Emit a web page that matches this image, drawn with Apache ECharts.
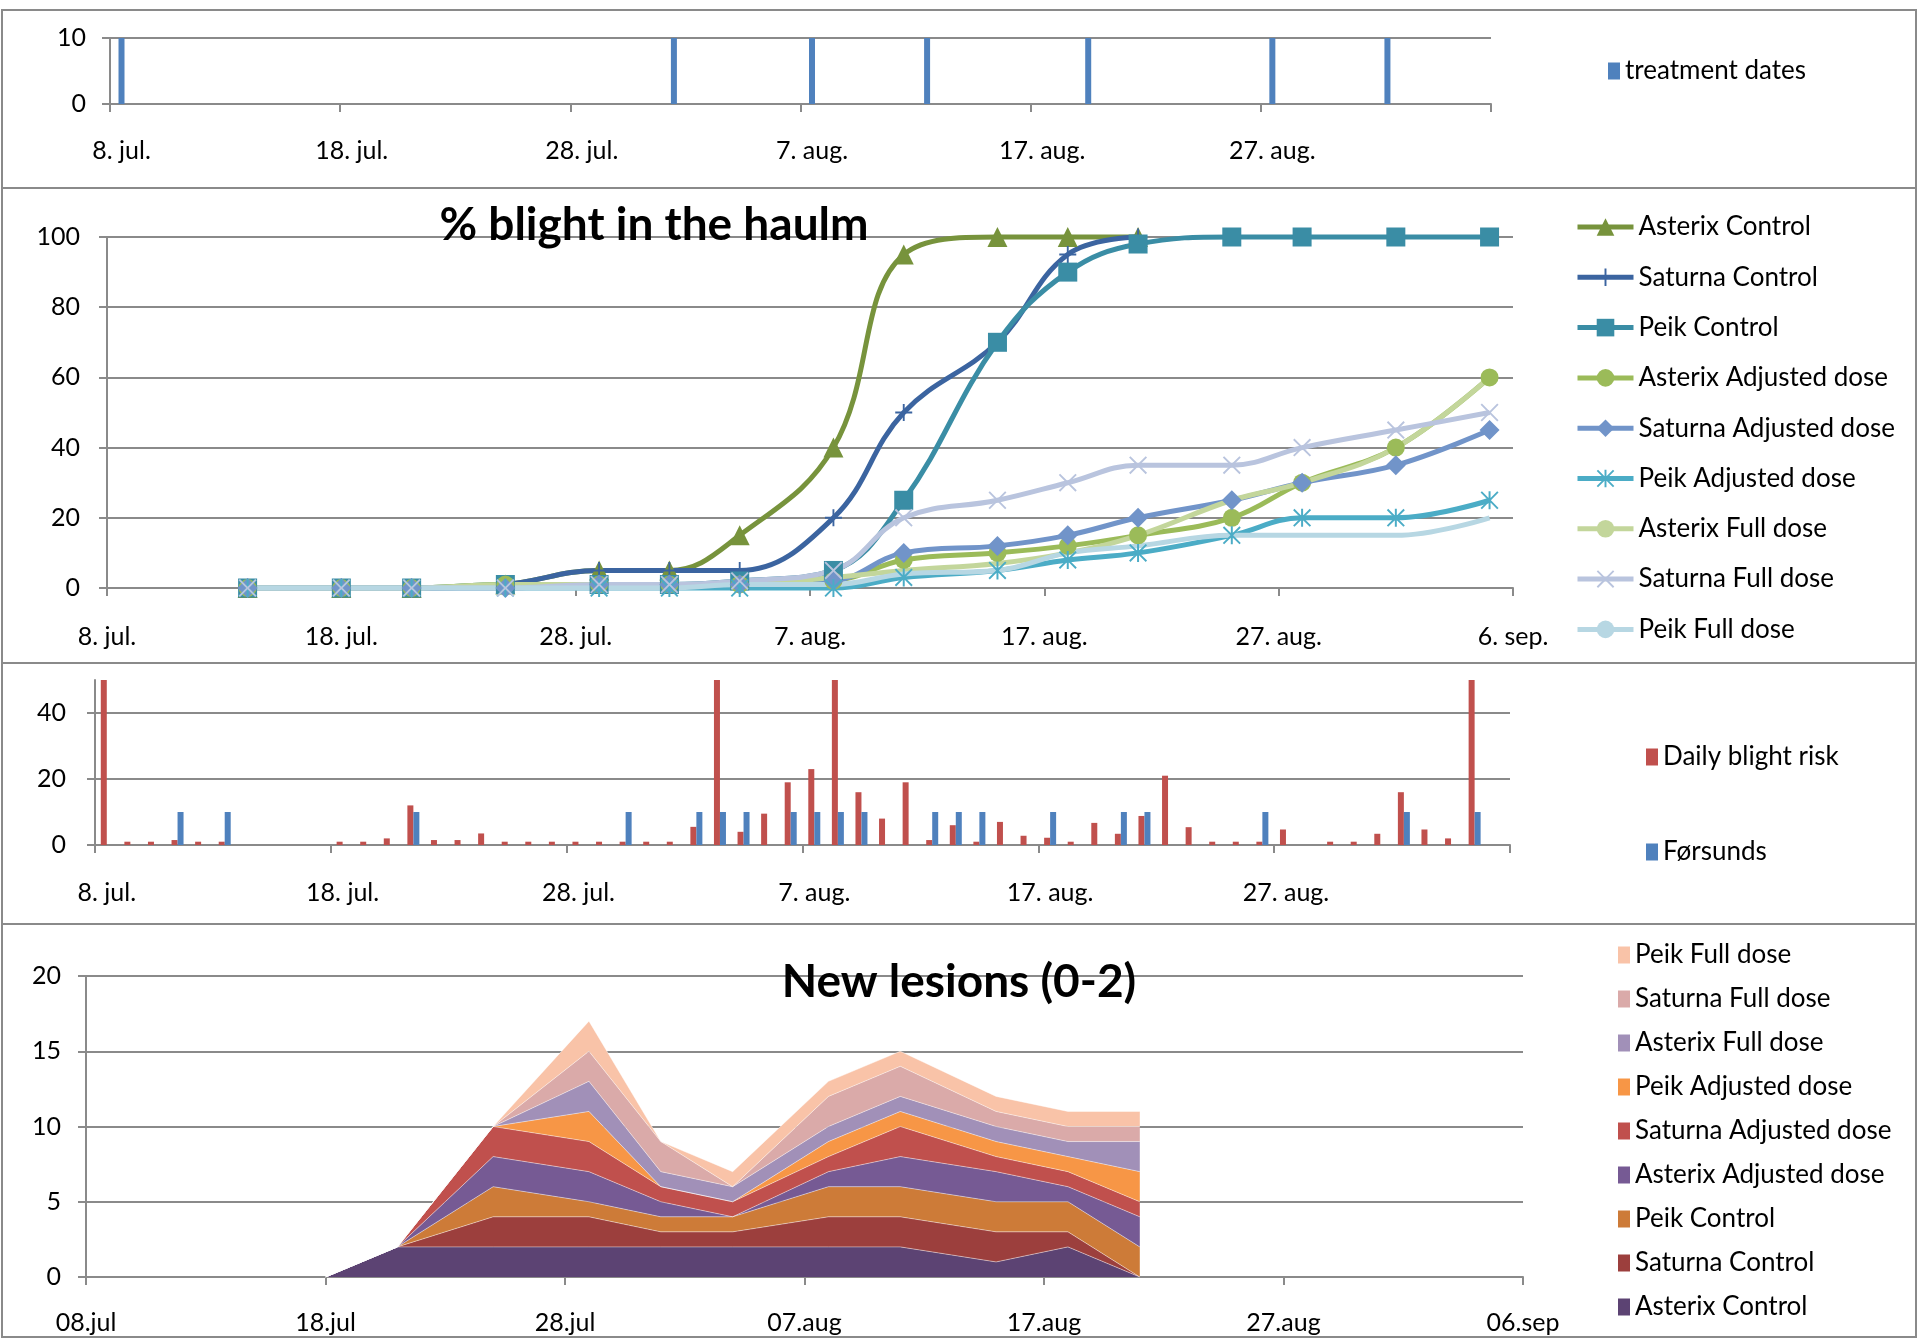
<!DOCTYPE html>
<html>
<head>
<meta charset="utf-8">
<script src="https://cdn.jsdelivr.net/npm/echarts@6/dist/echarts.min.js"></script>
<style>
html,body{margin:0;padding:0;background:#fff;}
#c{width:1920px;height:1341px;}
</style>
</head>
<body>
<div id="c"></div>
<script>
// ---------- DATA ----------
// 60 daily categories, 8 jul .. 5 sep (panels 1 and 3)
const days = [];
for (let d = 0; d < 60; d++) {
  if (d < 24) days.push((8 + d) + '. jul.');
  else if (d < 55) days.push((d - 23) + '. aug.');
  else days.push((d - 54) + '. sep.');
}
// 61 daily categories, 08.jul .. 06.sep (panel 4)
const pad = n => (n < 10 ? '0' : '') + n;
const lesionCats = [];
for (let d = 0; d <= 60; d++) {
  if (d < 24) lesionCats.push(pad(8 + d) + '.jul');
  else if (d < 55) lesionCats.push(pad(d - 23) + '.aug');
  else lesionCats.push(pad(d - 54) + '.sep');
}
const blightTicks = ['8. jul.', '18. jul.', '28. jul.', '7. aug.', '17. aug.', '27. aug.', '6. sep.'];

// Panel 1: treatment dates
const treatmentDates = ['8. jul.', '1. aug.', '7. aug.', '12. aug.', '19. aug.', '27. aug.', '1. sep.'];
const treatmentValue = 10;

// Panel 2: % blight in the haulm (x = days after 8 jul)
const blightDays = [6, 10, 13, 17, 21, 24, 27, 31, 34, 38, 41, 44, 48, 51, 55, 59];
const asterixControl  = [0, 0, 0, 1, 5, 5, 15, 40, 95, 100, 100, 100];
const saturnaControl  = [0, 0, 0, 1, 5, 5, 5, 20, 50, 70, 95, 100];
const peikControl     = [0, 0, 0, 1, 1, 1, 2, 5, 25, 70, 90, 98, 100, 100, 100, 100];
const asterixAdjusted = [0, 0, 0, 1, 1, 1, 1, 2, 8, 10, 12, 15, 20, 30, 40, 60];
const saturnaAdjusted = [0, 0, 0, 0, 1, 1, 1, 2, 10, 12, 15, 20, 25, 30, 35, 45];
const peikAdjusted    = [0, 0, 0, 0, 0, 0, 0, 0, 3, 5, 8, 10, 15, 20, 20, 25];
const asterixFull     = [0, 0, 0, 1, 1, 1, 1, 3, 5, 7, 10, 15, 25, 30, 40, 60];
const saturnaFull     = [0, 0, 0, 0, 1, 1, 2, 5, 20, 25, 30, 35, 35, 40, 45, 50];
const peikFull        = [0, 0, 0, 0, 0, 0, 1, 1, 4, 5, 10, 12, 15, 15, 15, 20];

// Panel 3: daily blight risk and Førsunds (one value per day, 8 jul .. 5 sep)
const dailyBlightRisk = [
  50, 1, 1, 1.5, 1, 1, null, null, null, null,
  1, 1, 2, 12, 1.5, 1.5, 3.5, 1, 1, 1,
  1, 1, 1, 1, 1, 5.5, 50, 4, 9.5, 19,
  23, 50, 16, 8, 19, 1.5, 6, 1, 7, 2.8,
  2.2, 1, 6.7, 3.4, 8.8, 21, 5.4, 1, 1, 1,
  4.7, null, 1, 1, 3.4, 16, 4.7, 2, 50, null
];
const forsunds = [
  null, null, null, 10, null, 10, null, null, null, null,
  null, null, null, 10, null, null, null, null, null, null,
  null, null, 10, null, null, 10, 10, 10, null, 10,
  10, 10, 10, null, null, 10, 10, 10, null, null,
  10, null, null, 10, 10, null, null, null, null, 10,
  null, null, null, null, null, 10, null, null, 10, null
];

// Panel 4: new lesions (0-2), stacked
const lesionDates = ['18.jul', '21.jul', '25.jul', '29.jul', '01.aug', '04.aug', '08.aug', '11.aug', '15.aug', '18.aug', '21.aug'];
const lesAsterixControl  = [0, 2, 2, 2, 2, 2, 2, 2, 1, 2, 0];
const lesSaturnaControl  = [0, 0, 2, 2, 1, 1, 2, 2, 2, 1, 0];
const lesPeikControl     = [0, 0, 2, 1, 1, 1, 2, 2, 2, 2, 2];
const lesAsterixAdjusted = [0, 0, 2, 2, 1, 0, 1, 2, 2, 1, 2];
const lesSaturnaAdjusted = [0, 0, 2, 2, 1, 1, 1, 2, 1, 1, 1];
const lesPeikAdjusted    = [0, 0, 0, 2, 0, 0, 1, 1, 1, 1, 2];
const lesAsterixFull     = [0, 0, 0, 2, 1, 1, 1, 1, 1, 1, 2];
const lesSaturnaFull     = [0, 0, 0, 2, 2, 0, 2, 2, 1, 1, 1];
const lesPeikFull        = [0, 0, 0, 2, 0, 1, 1, 1, 1, 1, 1];

// ---------- STYLE ----------
const FONT = 'Lato, "Open Sans", sans-serif';
const GRAY = '#8A8A8A';
const PLUS = 'path://M8.9,0H11.1V8.9H20V11.1H11.1V20H8.9V11.1H0V8.9H8.9Z';
const CROSS = 'path://M1.5,0L10,8.5L18.5,0L20,1.5L11.5,10L20,18.5L18.5,20L10,11.5L1.5,20L0,18.5L8.5,10L0,1.5Z';
const STAR = 'path://M1.5,0L10,8.5L18.5,0L20,1.5L11.5,10L20,18.5L18.5,20L10,11.5L1.5,20L0,18.5L8.5,10L0,1.5Z M8.9,0H11.1V20H8.9Z';

const lineDefs = [
  ['Asterix Control', asterixControl, '#77933C', 'triangle', 20],
  ['Saturna Control', saturnaControl, '#3B64A0', PLUS, 17],
  ['Peik Control', peikControl, '#3A8DA5', 'rect', 19],
  ['Asterix Adjusted dose', asterixAdjusted, '#9BBB59', 'circle', 18],
  ['Saturna Adjusted dose', saturnaAdjusted, '#7194C9', 'diamond', 20],
  ['Peik Adjusted dose', peikAdjusted, '#4BACC6', STAR, 18],
  ['Asterix Full dose', asterixFull, '#C3D69B', 'none', 0],
  ['Saturna Full dose', saturnaFull, '#B9C4DE', CROSS, 18],
  ['Peik Full dose', peikFull, '#B7D7E3', 'none', 0]
];
const areaDefs = [
  ['Asterix Control', lesAsterixControl, '#5C4373'],
  ['Saturna Control', lesSaturnaControl, '#9C3F3D'],
  ['Peik Control', lesPeikControl, '#CD7B38'],
  ['Asterix Adjusted dose', lesAsterixAdjusted, '#765A94'],
  ['Saturna Adjusted dose', lesSaturnaAdjusted, '#C0504D'],
  ['Peik Adjusted dose', lesPeikAdjusted, '#F79646'],
  ['Asterix Full dose', lesAsterixFull, '#A190B8'],
  ['Saturna Full dose', lesSaturnaFull, '#DAAAA9'],
  ['Peik Full dose', lesPeikFull, '#F9C3A8']
];

const axisLine = { show: true, lineStyle: { color: GRAY, width: 2 } };
const axisTick = { show: true, length: 8, lineStyle: { color: GRAY, width: 2 } };
const splitLine = { show: true, lineStyle: { color: GRAY, width: 2 } };
const labelStyle = { color: '#000', fontSize: 25, fontFamily: FONT };

function catX(grid, cats, gap, margin) {
  return {
    gridIndex: grid, type: 'category', data: cats, boundaryGap: gap,
    axisLine: axisLine, axisTick: Object.assign({ interval: 9 }, axisTick),
    axisLabel: Object.assign({ interval: 9, margin: margin }, labelStyle),
    splitLine: { show: false }
  };
}
function valX(grid, ticks, margin) {
  return {
    gridIndex: grid, type: 'value', min: 0, max: 60, interval: 10,
    axisLine: axisLine, axisTick: axisTick,
    axisLabel: Object.assign({ margin: margin, formatter: v => ticks[Math.round(v / 10)] }, labelStyle),
    splitLine: { show: false }
  };
}
function valY(grid, max, interval, margin, extra) {
  return Object.assign({
    gridIndex: grid, type: 'value', min: 0, max: max, interval: interval,
    axisLine: axisLine, axisTick: axisTick,
    axisLabel: Object.assign({ margin: margin }, labelStyle),
    splitLine: splitLine
  }, extra || {});
}

const series = [];
series.push({
  name: 'treatment dates', type: 'bar', xAxisIndex: 0, yAxisIndex: 0,
  barWidth: 6, itemStyle: { color: '#4F81BD' },
  data: treatmentDates.map(d => [d, treatmentValue])
});
lineDefs.forEach(([name, vals, color, sym, size]) => {
  series.push({
    name: name, type: 'line', xAxisIndex: 1, yAxisIndex: 1,
    smooth: 0.4, clip: false, color: color,
    symbol: sym, symbolSize: size, showSymbol: sym !== 'none',
    lineStyle: { width: 5, color: color },
    itemStyle: { color: color, borderWidth: 0 },
    data: vals.map((v, i) => [blightDays[i], v])
  });
});
series.push({
  name: 'Daily blight risk', type: 'bar', xAxisIndex: 2, yAxisIndex: 2,
  barWidth: 6, barGap: '0%', itemStyle: { color: '#C0504D' }, data: dailyBlightRisk
});
series.push({
  name: 'Førsunds', type: 'bar', xAxisIndex: 2, yAxisIndex: 2,
  barWidth: 6, barGap: '0%', itemStyle: { color: '#4F81BD' }, data: forsunds
});
areaDefs.forEach(([name, vals, color]) => {
  series.push({
    name: 'L:' + name, type: 'line', xAxisIndex: 3, yAxisIndex: 3,
    stack: 'lesions', symbol: 'none', color: color,
    lineStyle: { width: 1, color: 'rgba(255,255,255,0.45)' },
    areaStyle: { color: color, opacity: 1 },
    itemStyle: { color: color },
    data: vals.map((v, i) => [lesionDates[i], v])
  });
});

const legendText = { color: '#000', fontSize: 26, fontFamily: FONT, lineHeight: 28 };
const borders = [[10, 188], [188, 663], [663, 924], [924, 1337]];

const option = {
  animation: false,
  backgroundColor: '#fff',
  grid: [
    { left: 110, top: 38, width: 1381, height: 66, outerBoundsMode: 'none' },
    { left: 107, top: 237, width: 1406, height: 351, outerBoundsMode: 'none' },
    { left: 95, top: 680, width: 1415, height: 165, outerBoundsMode: 'none' },
    { left: 86, top: 976, width: 1437, height: 301, outerBoundsMode: 'none' }
  ],
  xAxis: [catX(0, days, true, 34), valX(1, blightTicks, 36), catX(2, days, true, 35), catX(3, lesionCats, false, 33)],
  yAxis: [
    valY(0, 10, 10, 24),
    valY(1, 100, 20, 27),
    valY(2, 50, 20, 29, {
      axisLabel: Object.assign({ margin: 29, showMaxLabel: false }, labelStyle),
      splitLine: { show: true, showMaxLine: false, lineStyle: { color: GRAY, width: 2 } }
    }),
    valY(3, 20, 5, 25)
  ],
  legend: [
    { data: ['treatment dates'], left: 1608, top: 57, orient: 'vertical', padding: 0,
      icon: 'rect', itemWidth: 12, itemHeight: 17, textStyle: legendText, selectedMode: false },
    { data: lineDefs.map(d => d[0]), left: 1575, top: 213, orient: 'vertical', padding: 0,
      itemWidth: 56, itemHeight: 22, itemGap: 22.3, textStyle: legendText, selectedMode: false,
      lineStyle: { width: 5 } },
    { data: ['Daily blight risk', 'Førsunds'], left: 1646, top: 743, orient: 'vertical', padding: 0,
      icon: 'rect', itemWidth: 12, itemHeight: 17, itemGap: 67, textStyle: legendText, selectedMode: false },
    { data: areaDefs.map(d => 'L:' + d[0]).reverse(), left: 1618, top: 941, orient: 'vertical', padding: 0,
      icon: 'rect', itemWidth: 12, itemHeight: 17, itemGap: 16, textStyle: legendText,
      itemStyle: { borderWidth: 0 }, selectedMode: false, formatter: n => n.slice(2) }
  ],
  graphic: borders.map(([y0, y1]) => ({
    type: 'rect', z: 50, silent: true,
    shape: { x: 2, y: y0, width: 1914, height: y1 - y0 },
    style: { fill: 'transparent', stroke: GRAY, lineWidth: 2 }
  })).concat([
    { type: 'text', z: 100, x: 654, y: 225,
      style: { text: '% blight in the haulm', font: 'bold 46px ' + FONT, fill: '#000',
               textAlign: 'center', textVerticalAlign: 'middle', verticalAlign: 'middle' } },
    { type: 'text', z: 100, x: 959, y: 982,
      style: { text: 'New lesions (0-2)', font: 'bold 46px ' + FONT, fill: '#000',
               textAlign: 'center', textVerticalAlign: 'middle', verticalAlign: 'middle' } }
  ]),
  series: series
};

const chart = echarts.init(document.getElementById('c'), null, { width: 1920, height: 1341 });
chart.setOption(option);
</script>
</body>
</html>
